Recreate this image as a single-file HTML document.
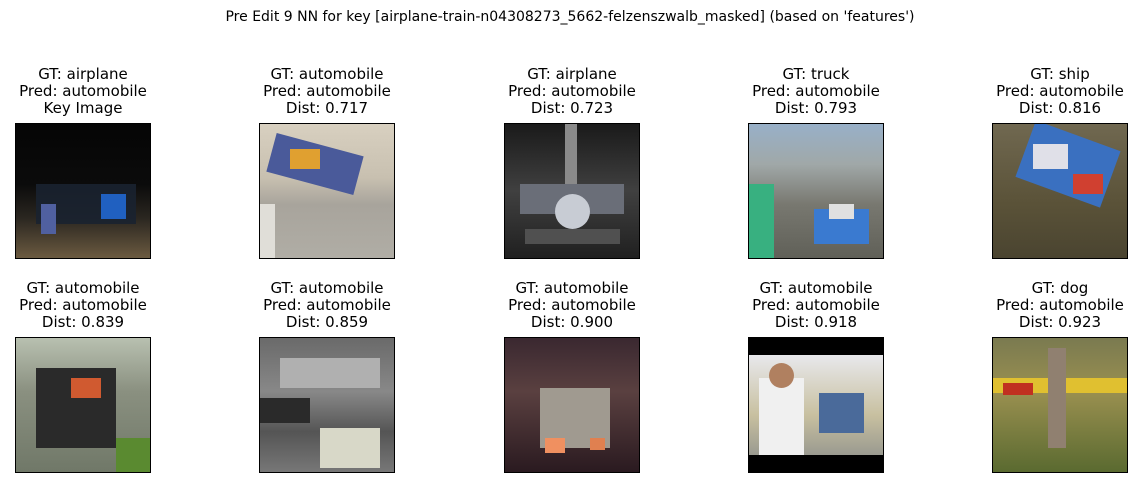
<!DOCTYPE html>
<html><head><meta charset="utf-8"><style>
body{margin:0;width:1140px;height:486px;background:#fff;position:relative;overflow:hidden;font-family:"DejaVu Sans","Liberation Sans",sans-serif;color:#000}
.t{position:absolute;text-align:center;font-size:15px;line-height:17px;width:240px}
.im{position:absolute;width:134px;height:134px;border:1px solid #000;overflow:hidden}
.im div{position:absolute}
</style></head><body>
<div style="position:absolute;top:9px;left:0;width:1140px;text-align:center;font-size:14px">Pre Edit 9 NN for key [airplane-train-n04308273_5662-felzenszwalb_masked] (based on 'features')</div>

<div class="t" style="left:-37px;top:66px">GT: airplane<br>Pred: automobile<br>Key Image</div>
<div class="t" style="left:207px;top:66px">GT: automobile<br>Pred: automobile<br>Dist: 0.717</div>
<div class="t" style="left:452px;top:66px">GT: airplane<br>Pred: automobile<br>Dist: 0.723</div>
<div class="t" style="left:696px;top:66px">GT: truck<br>Pred: automobile<br>Dist: 0.793</div>
<div class="t" style="left:940px;top:66px">GT: ship<br>Pred: automobile<br>Dist: 0.816</div>

<div class="t" style="left:-37px;top:280px">GT: automobile<br>Pred: automobile<br>Dist: 0.839</div>
<div class="t" style="left:207px;top:280px">GT: automobile<br>Pred: automobile<br>Dist: 0.859</div>
<div class="t" style="left:452px;top:280px">GT: automobile<br>Pred: automobile<br>Dist: 0.900</div>
<div class="t" style="left:696px;top:280px">GT: automobile<br>Pred: automobile<br>Dist: 0.918</div>
<div class="t" style="left:940px;top:280px">GT: dog<br>Pred: automobile<br>Dist: 0.923</div>

<!-- row1 -->
<div class="im" style="left:15px;top:123px;background:linear-gradient(#050505 0%,#0b0b0b 45%,#2a2620 70%,#6b5a40 100%)">
 <div style="left:20px;top:60px;width:100px;height:40px;background:#1a2230;opacity:.9"></div>
 <div style="left:85px;top:70px;width:25px;height:25px;background:#2060c0"></div>
 <div style="left:25px;top:80px;width:15px;height:30px;background:#5060a0"></div>
</div>
<div class="im" style="left:259px;top:123px;background:linear-gradient(#d8d0c0 0%,#c8c0b0 40%,#a8a49c 60%,#b0ada5 100%)">
 <div style="left:10px;top:20px;width:90px;height:40px;background:#4a5a9a;transform:rotate(15deg)"></div>
 <div style="left:30px;top:25px;width:30px;height:20px;background:#e0a030"></div>
 <div style="left:0;top:80px;width:15px;height:54px;background:#e0ded8"></div>
</div>
<div class="im" style="left:504px;top:123px;background:linear-gradient(#1a1a1a,#404040 50%,#202020)">
 <div style="left:60px;top:0;width:12px;height:80px;background:#8a8a8a"></div>
 <div style="left:15px;top:60px;width:104px;height:30px;background:#6a6e78"></div>
 <div style="left:50px;top:70px;width:35px;height:35px;background:#c8ccd4;border-radius:50%"></div>
 <div style="left:20px;top:105px;width:95px;height:15px;background:#505050"></div>
</div>
<div class="im" style="left:748px;top:123px;background:linear-gradient(#98b0c8 0%,#a0a8a8 30%,#787870 60%,#606058 100%)">
 <div style="left:0;top:60px;width:25px;height:74px;background:#38b080"></div>
 <div style="left:65px;top:85px;width:55px;height:35px;background:#3a7ad0"></div>
 <div style="left:80px;top:80px;width:25px;height:15px;background:#e0e0e0"></div>
</div>
<div class="im" style="left:992px;top:123px;background:linear-gradient(#706850,#5a5238 60%,#4a4430)">
 <div style="left:30px;top:10px;width:90px;height:60px;background:#3a70c0;transform:rotate(20deg)"></div>
 <div style="left:40px;top:20px;width:35px;height:25px;background:#e0e0e8"></div>
 <div style="left:80px;top:50px;width:30px;height:20px;background:#d04030"></div>
</div>

<!-- row2 -->
<div class="im" style="left:15px;top:337px;background:linear-gradient(#b8c0b0 0%,#8a9080 40%,#707868 100%)">
 <div style="left:20px;top:30px;width:80px;height:80px;background:#2a2a2a"></div>
 <div style="left:55px;top:40px;width:30px;height:20px;background:#d05a30"></div>
 <div style="left:100px;top:100px;width:34px;height:34px;background:#5a8a30"></div>
</div>
<div class="im" style="left:259px;top:337px;background:linear-gradient(#6a6a6a,#888 40%,#555 70%,#777)">
 <div style="left:20px;top:20px;width:100px;height:30px;background:#b0b0b0"></div>
 <div style="left:60px;top:90px;width:60px;height:40px;background:#d8d8c8"></div>
 <div style="left:0;top:60px;width:50px;height:25px;background:#2a2a2a"></div>
</div>
<div class="im" style="left:504px;top:337px;background:linear-gradient(#3a2830,#5a4040 40%,#2a1a20)">
 <div style="left:35px;top:50px;width:70px;height:60px;background:#a09a90"></div>
 <div style="left:40px;top:100px;width:20px;height:15px;background:#f09060"></div>
 <div style="left:85px;top:100px;width:15px;height:12px;background:#e08050"></div>
</div>
<div class="im" style="left:748px;top:337px;background:#000">
 <div style="left:0;top:17px;width:134px;height:100px;background:linear-gradient(#e8e8ec,#c8c0a0 60%,#9a9a90)"></div>
 <div style="left:10px;top:40px;width:45px;height:77px;background:#f0f0f0"></div>
 <div style="left:20px;top:25px;width:25px;height:25px;background:#b08060;border-radius:50%"></div>
 <div style="left:70px;top:55px;width:45px;height:40px;background:#4a6a9a"></div>
</div>
<div class="im" style="left:992px;top:337px;background:linear-gradient(#7a7a50,#9a9050 40%,#5a6a30 100%)">
 <div style="left:0;top:40px;width:134px;height:15px;background:#e0c030"></div>
 <div style="left:10px;top:45px;width:30px;height:12px;background:#c03020"></div>
 <div style="left:55px;top:10px;width:18px;height:100px;background:#908070"></div>
</div>
</body></html>
